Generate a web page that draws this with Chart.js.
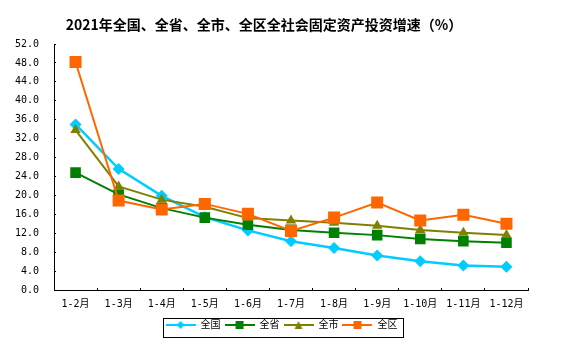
<!DOCTYPE html>
<html>
<head>
<meta charset="utf-8">
<script src="https://cdn.jsdelivr.net/npm/chart.js@4/dist/chart.umd.min.js"></script>
<style>
html,body{margin:0;padding:0;background:#fff;}
#wrap{width:579px;height:355px;position:relative;}
</style>
</head>
<body>
<div id="wrap"><canvas id="c" width="579" height="355"></canvas></div>
<script>
const titleText = "2021年全国、全省、全市、全区全社会固定资产投资增速（%）";
const categories = ["1-2月","1-3月","1-4月","1-5月","1-6月","1-7月","1-8月","1-9月","1-10月","1-11月","1-12月"];
const seriesNames = ["全国","全省","全市","全区"];
const national = [35.0, 25.6, 19.9, 15.4, 12.6, 10.3, 8.9, 7.3, 6.1, 5.2, 4.9];
const province = [24.8, 20.2, 17.3, 15.3, 13.8, 12.7, 12.1, 11.6, 10.8, 10.3, 10.0];
const city     = [33.8, 21.9, 19.1, 17.6, 15.2, 14.7, 14.2, 13.6, 12.7, 12.1, 11.6];
const district = [48.2, 18.9, 17.0, 18.2, 16.1, 12.5, 15.3, 18.5, 14.7, 15.9, 14.0];
const yTicks = {min: 0, max: 52, step: 4};

const colors = ["#00CCFF", "#008000", "#808000", "#FF6600"];
const styles = ["rectRot", "rect", "triangle", "rect"];
const radii = [6, 7.5, 6, 8.5];

function legendIcon(color, style) {
  const cv = document.createElement('canvas');
  cv.width = 30; cv.height = 10;
  const g = cv.getContext('2d');
  g.strokeStyle = color; g.fillStyle = color; g.lineWidth = 2;
  g.beginPath(); g.moveTo(0, 5); g.lineTo(30, 5); g.stroke();
  g.beginPath();
  if (style === 'rectRot') { g.moveTo(15, 1); g.lineTo(19, 5); g.lineTo(15, 9); g.lineTo(11, 5); g.closePath(); }
  else if (style === 'triangle') { g.moveTo(15, 1); g.lineTo(19, 9); g.lineTo(11, 9); g.closePath(); }
  else { g.rect(11, 1, 8, 8); }
  g.fill();
  return cv;
}
const icons = colors.map((c, i) => legendIcon(c, styles[i]));

const dataArrays = [national, province, city, district];
const datasets = dataArrays.map((d, i) => ({
  label: seriesNames[i],
  data: d,
  borderColor: colors[i],
  backgroundColor: colors[i],
  borderWidth: i === 0 ? 2.5 : 2,
  pointStyle: styles[i],
  pointRadius: radii[i],
  pointHoverRadius: radii[i],
  pointBorderWidth: 0,
  tension: 0,
  order: 3 - i,
  yAxisID: 'y'
}));

const monoFont = "'DejaVu Sans Mono', 'Noto Sans CJK SC', monospace";

const titlePlugin = {
  id: 'customTitle',
  afterDraw(chart) {
    const ctx = chart.ctx;
    ctx.save();
    ctx.font = "bold 14px 'Noto Sans CJK SC', sans-serif";
    ctx.fillStyle = '#000';
    ctx.textAlign = 'center';
    ctx.textBaseline = 'middle';
    ctx.fillText(titleText, 264, 25);
    ctx.restore();
  }
};

const legendBorder = {
  id: 'legendBorder',
  afterDraw(chart) {
    const lg = chart.legend;
    if (!lg || !lg.legendHitBoxes || !lg.legendHitBoxes.length) return;
    const hb = lg.legendHitBoxes;
    let l = Infinity, r = -Infinity;
    hb.forEach(h => { l = Math.min(l, h.left); r = Math.max(r, h.left + h.width); });
    const ctx = chart.ctx;
    ctx.save();
    ctx.strokeStyle = '#000';
    ctx.lineWidth = 1;
    ctx.strokeRect(Math.round(l - 3) + 0.5, Math.round(lg.top + 2) + 0.5, Math.round(r - l + 8), Math.round(lg.height - 5));
    ctx.restore();
  }
};

new Chart(document.getElementById('c'), {
  type: 'line',
  data: { labels: categories, datasets },
  options: {
    responsive: false,
    animation: false,
    devicePixelRatio: 1,
    layout: { padding: { top: 44, left: 0, right: 16, bottom: 15 } },
    plugins: {
      title: { display: false },
      tooltip: { enabled: false },
      legend: {
        display: true,
        position: 'bottom',
        labels: {
          usePointStyle: true,
          pointStyleWidth: 30,
          padding: 4,
          color: '#000',
          font: { family: monoFont, size: 10 },
          generateLabels(chart) {
            return chart.data.datasets.map((ds, i) => ({
              text: ds.label,
              fillStyle: ds.borderColor,
              strokeStyle: ds.borderColor,
              lineWidth: 0,
              pointStyle: icons[i],
              hidden: false,
              datasetIndex: i,
              fontColor: '#000'
            }));
          }
        }
      }
    },
    scales: {
      x: {
        type: 'category',
        offset: true,
        grid: { display: true, offset: true, drawOnChartArea: false, drawTicks: true, tickLength: -2, color: '#000', lineWidth: 1 },
        border: { display: true, color: '#000', width: 1 },
        ticks: { color: '#000', font: { family: monoFont, size: 10 }, padding: 10, maxRotation: 0, autoSkip: false },
        afterFit(s) { s.height = 26; }
      },
      y: {
        type: 'linear',
        position: 'left',
        min: yTicks.min,
        max: yTicks.max,
        grid: { display: true, drawOnChartArea: false, drawTicks: true, tickLength: -2, color: '#000', lineWidth: 1 },
        border: { display: true, color: '#000', width: 1 },
        ticks: { stepSize: yTicks.step, color: '#000', font: { family: monoFont, size: 10 }, padding: 17, callback: v => Number(v).toFixed(1) },
        afterFit(s) { s.width = 54; }
      },
      y2: {
        type: 'linear',
        position: 'right',
        display: true,
        grid: { display: false },
        border: { display: false },
        ticks: { display: false },
        afterFit(s) { s.width = 35; }
      }
    }
  },
  plugins: [titlePlugin, legendBorder]
});
</script>
</body>
</html>
